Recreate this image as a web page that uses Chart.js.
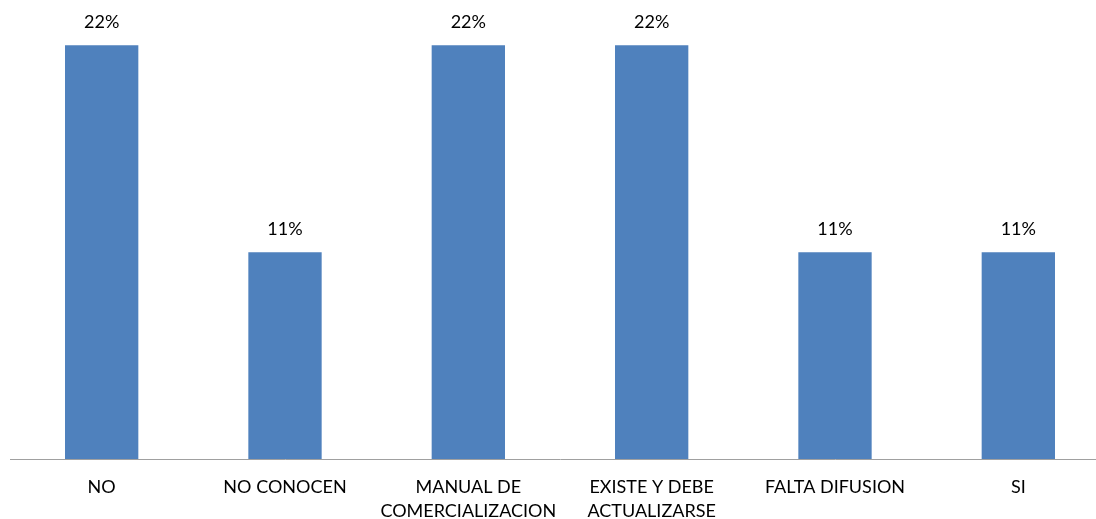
<!DOCTYPE html>
<html>
<head>
<meta charset="utf-8">
<script src="https://cdn.jsdelivr.net/npm/chart.js@4"></script>
<style>
  html, body { margin: 0; padding: 0; background: #fff; overflow: hidden; }
  #wrap { width: 1110px; height: 531px; }
</style>
</head>
<body>
<div id="wrap"><canvas id="grafico"></canvas></div>
<script>
// categorias y porcentajes
const categorias = [
    'NO',
    'NO CONOCEN',
    ['MANUAL DE', 'COMERCIALIZACION'],
    ['EXISTE Y DEBE', 'ACTUALIZARSE'],
    'FALTA DIFUSION',
    'SI'
];
const porcentajes = [22, 11, 22, 22, 11, 11];

// etiqueta de valor encima de cada barra
const etiquetasValor = {
    id: 'etiquetasValor',
    afterDatasetsDraw(chart) {
        const ctx = chart.ctx;
        const meta = chart.getDatasetMeta(0);
        ctx.save();
        ctx.font = '18px Lato';
        ctx.fillStyle = '#000';
        ctx.textAlign = 'center';
        ctx.textBaseline = 'middle';
        meta.data.forEach(function(bar, i) {
            ctx.fillText(porcentajes[i] + '%', bar.x, bar.y - 23);
        });
        ctx.restore();
    }
};

const ctx = document.getElementById('grafico');

new Chart(ctx, {
    type: 'bar',
    data: {
        labels: categorias,
        datasets: [{
            data: porcentajes,
            backgroundColor: '#4F81BD',
            borderWidth: 0,
            categoryPercentage: 1,
            barPercentage: 0.4
        }]
    },
    options: {
        responsive: true,
        maintainAspectRatio: false,
        animation: false,
        layout: { padding: { left: 10, right: 0, top: 0, bottom: 0 } },
        plugins: {
            legend: { display: false },
            tooltip: { enabled: false }
        },
        scales: {
            x: {
                grid: { display: false },
                border: { display: true, color: '#A0A0A0', width: 1 },
                ticks: {
                    color: '#000',
                    font: { family: 'Lato', size: 18, lineHeight: 1.33 },
                    padding: 8,
                    maxRotation: 0,
                    autoSkip: false
                }
            },
            y: {
                display: false,
                min: 0,
                max: 24.4
            }
        }
    },
    plugins: [etiquetasValor]
});
</script>
</body>
</html>
